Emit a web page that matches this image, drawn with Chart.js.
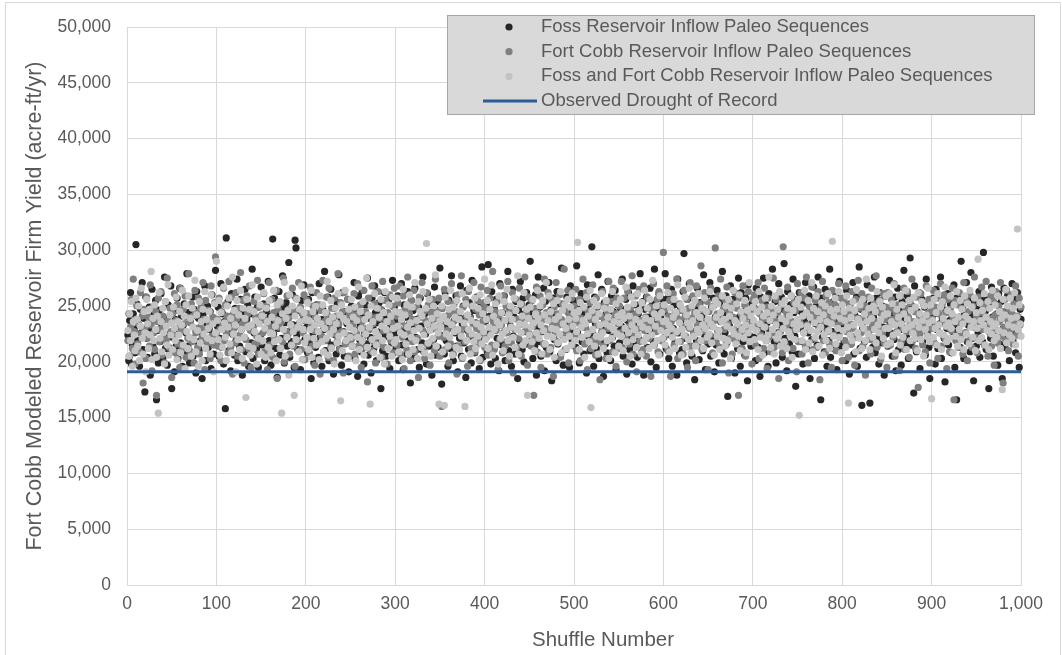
<!DOCTYPE html>
<html>
<head>
<meta charset="utf-8">
<script src="https://cdn.jsdelivr.net/npm/chart.js@4.4.1/dist/chart.umd.min.js"></script>
<style>
html,body{margin:0;padding:0;background:#fff;}
canvas{display:block;}
</style>
</head>
<body>
<canvas id="c" width="1062" height="655"></canvas>
<script>
// Firm yield (acre-ft/yr) for shuffles 1..1000
const fossSeries = [
22400,20100,23700,26200,19800,21500,24300,22900,20800,30500,25200,21900,23300,19600,24700,22600,27100,21100,23900,17300,25800,22100,20400,23600,24900,18800,23000,26500,21400,24200,20700,25500,16600,22800,19900,24600,21800,26100,23300,20300,24000,27600,21200,22400,19700,25100,23500,20900,26800,17600,
22200,24500,19100,23800,21400,25700,20300,22900,26600,21700,24100,19600,23300,25200,20800,22600,27900,21400,24400,19900,23600,22100,25800,20500,24700,23000,19000,26300,21800,23900,21100,25400,22700,18500,24200,21900,26800,20100,23500,25000,21300,22900,24500,19400,26000,22400,20700,23800,28200,21600,
23200,24900,20500,22100,27000,21300,24300,19800,23600,15800,31100,22700,25400,21000,24000,19200,26100,22500,23300,20600,24800,21900,27400,20100,23700,21400,25600,22900,18800,24500,22200,26500,20900,23800,25100,19600,23000,24300,21700,28300,20300,22600,25800,23400,21100,24900,19500,24000,22300,26700,
21500,23800,25200,20100,22900,24600,20800,27200,21900,24100,19700,23400,31000,22500,25700,21200,24400,18600,23000,26300,20600,23900,22100,27700,24800,19900,23500,25300,21400,22700,28900,20400,24200,21800,26000,23300,19500,30900,30200,22400,21100,24600,22800,19300,25500,23700,20200,26900,22000,24300,
23100,20800,25600,21700,24000,18500,26200,22600,19900,24400,21300,25100,23500,20400,27000,22200,23800,19600,24700,22900,28100,21000,24300,21900,25800,20100,23300,26500,21500,23600,18900,24800,22400,20700,25300,23100,27800,21200,24000,19700,26200,22700,20500,24500,21800,23400,25600,19100,23900,22300,
25000,21400,23600,27100,20300,22800,24500,18700,25900,22000,23300,20900,26400,24200,19800,22600,25100,21600,27500,20600,23900,22200,19000,25700,23100,21200,26800,24400,20100,23500,21800,25300,22700,17600,24600,21000,23800,26200,22300,20500,24100,22900,25600,19400,23200,21700,27300,20800,24900,22500,
21200,23700,25900,20100,24400,22800,27000,21500,19300,25100,22600,24000,20700,26300,21900,23400,18100,25500,23000,24600,20300,26600,22200,23800,21100,24900,19500,25700,23200,21700,27600,20900,24300,22500,19800,26100,23600,21400,25200,22900,18800,24500,22000,26700,20600,23900,25400,21300,23100,28400,
22400,18000,24800,23300,20700,26200,21900,24100,19600,25500,23000,21200,27700,24500,20100,23700,22600,25900,21400,19100,24300,22100,26800,20500,23400,25000,21700,23900,18600,26400,22800,21100,25300,24000,19900,27300,22200,24600,20800,23500,25800,21600,23100,19400,24900,22700,28500,20400,24200,22000,
23600,25200,20900,28700,22500,24100,19800,26300,21400,23000,24700,20300,25600,22100,23800,19200,27000,23300,21500,24400,22600,25900,20100,23700,21800,28100,21000,24800,23200,19600,26500,22300,24000,20700,25400,22900,18500,24600,21900,27200,23400,21100,25700,20000,24300,22700,26200,21600,23900,25100,
29000,22200,24500,20300,23600,21400,26000,18800,23100,27600,21800,24900,20500,23900,22700,26600,19200,25400,21300,24100,22800,27100,20900,24600,18300,23500,25700,22000,24200,20100,26300,21600,23800,25200,20600,28400,22400,19700,24700,23300,21100,25800,22900,24400,19500,26800,23700,21900,25500,22600,
24000,21300,28600,22700,25200,19900,23500,26100,21800,24400,20700,23100,25600,19000,26900,22300,24700,21000,23800,30300,22500,19600,25800,23400,21200,24900,27800,20300,24100,21900,26500,23000,18700,25300,21600,24300,20800,27200,22800,23600,20100,25900,22200,24500,21400,26400,19300,23900,25100,22700,
21700,24800,23200,27400,20500,24000,22600,25600,18900,23700,26200,21100,24500,22200,19800,26800,23400,21500,25100,22900,20400,24300,22000,27900,23600,20900,25400,18800,24700,23100,25800,21300,24000,22500,26600,20000,23800,25200,21800,28300,22800,19500,24600,23400,26100,20700,24100,21900,25600,23200,
24500,27900,21200,23300,25700,20300,23800,22400,26500,19600,23000,25100,21700,24200,18800,27400,22600,20800,24900,23500,21100,26300,29700,22100,24400,19900,25600,23200,27000,21400,23900,20500,25800,22700,18400,24700,21900,26600,23600,20200,25300,22800,24100,21000,27800,22400,19300,24500,26000,21600,
23400,27100,20500,24900,22200,25700,19100,24000,21500,26400,22800,19900,25300,23600,21100,28100,24300,20700,22600,25900,21700,16900,24600,23200,26800,20300,23800,25600,22100,19000,25000,22700,21200,27500,24000,19600,26200,23000,21800,24500,20600,25700,23300,18300,26900,22400,24100,21400,25200,23700,
22200,24800,20100,26600,23100,21300,24400,18700,25800,22600,23900,27500,20800,25200,21900,23500,19600,26100,22800,24500,21000,28300,23700,21800,25400,19900,24200,22600,27000,21500,23300,25800,20400,24700,28800,22100,23800,19200,26300,22900,21600,25100,23600,20900,27400,24400,22300,17800,25600,23100,
20700,26200,23000,24500,21800,19800,25300,23600,27100,21200,24100,22600,25900,18500,24800,22000,23700,26700,20300,23400,25000,21500,27600,22900,24300,16600,25700,22200,23800,20900,26500,23100,19600,24600,21900,28300,20400,24000,22700,25400,21200,23600,26000,19300,24900,22500,27200,21400,24300,23000,
25600,21900,23700,20100,26400,22800,24500,18900,25200,21600,23300,27100,20700,24200,22300,25800,19600,23900,28500,21200,24700,16100,23000,25500,21800,23600,20400,26900,22600,24400,16300,25100,22900,21300,24000,27600,20800,25700,22100,23500,19800,26200,24400,21700,25000,23100,18800,25900,22500,24100,
21400,23700,27300,22600,24900,20500,24300,22000,25800,19200,23500,26600,21100,24600,22900,19700,25400,23800,28200,21600,24300,22200,25900,20300,23700,29300,21500,25000,22800,17200,26800,23300,20900,24500,22100,26200,19400,24000,25600,21800,23100,24900,20600,27400,22700,24300,21300,18500,25200,23600,
22000,25700,24300,19800,26500,22900,21200,24800,23400,27600,20300,23900,25500,22100,18200,24600,23000,26100,21500,23700,25200,20800,24100,22700,26900,19500,23300,16600,25800,22400,24000,21300,29000,23600,25000,20300,24400,22600,27100,21800,23300,25700,20900,28000,24200,22100,18300,25300,23800,21400,
24700,22600,26300,20400,23900,25500,21800,29800,23200,24500,21100,25800,23600,17600,24900,22100,26700,24000,20500,23400,25200,22800,24300,19700,26100,21600,23800,25400,18500,23000,26600,21300,24500,22200,25900,23500,20100,24800,22700,27000,21900,24100,25600,20800,23300,26200,22400,19500,24700,23800
];
const fortCobbSeries = [
21900,24300,20500,23100,25600,21200,27400,22700,19800,23800,25000,21600,23400,20900,26200,22500,24100,18100,24700,23000,20300,25800,22100,24000,21400,26900,23300,19200,24900,22600,21100,24500,17000,23600,25700,21800,22900,26300,20600,24100,23200,19900,25400,22000,27500,23700,21300,24800,22700,18600,
24300,22400,26100,20800,23700,25100,21600,23000,19500,26600,22800,21200,24700,23400,25900,20400,24000,22100,27900,21000,23500,25200,21800,24100,19900,26400,22600,24400,21300,25700,20700,23100,24900,22200,27100,23800,19300,25500,22900,21700,24600,23400,20300,26800,22300,24000,21500,25300,29400,22600,
23800,21400,25700,22900,20100,24500,23300,26600,21900,25100,22600,24100,20800,27200,23600,21300,25800,18900,24300,23000,21700,26200,23900,20500,24800,22400,28000,21100,23400,25500,19900,23700,22000,25900,24300,21200,26800,22800,19500,24600,23100,25400,21600,24000,22300,27300,20700,24900,23600,21800,
24200,22600,26100,20900,23700,25000,19300,23300,27100,21500,22800,25600,20400,24400,22100,23800,26400,18500,24700,23100,21200,25300,23600,21800,27500,20000,24200,22700,25900,22400,23900,20700,24800,23200,26600,21400,24500,19600,25700,23000,21800,27100,23500,24900,21100,24300,22600,26000,20200,23800,
25500,22100,24300,20800,26700,23200,21400,25000,22800,19700,24000,26200,21600,23500,25100,18900,24600,22300,27300,20900,23600,21900,25800,24200,20400,26600,22900,21300,24800,23300,20100,25700,22500,24100,21800,27900,23400,21100,25300,22700,24500,19000,26200,21600,23800,22400,25600,20500,24300,23100,
22000,24800,23300,26100,20700,24200,22600,27000,21400,23800,25100,19500,23600,22200,26400,21300,24500,23000,18200,25700,22900,24100,21000,26800,23400,21800,25200,19900,24000,22500,26300,21600,23900,24700,20400,27200,22800,21300,25500,23600,19800,24400,22700,26000,21900,23500,25000,20800,26600,23100,
24100,21500,25300,23000,26800,20700,23600,22200,25900,19400,24700,23200,21100,27600,22600,24300,20100,25500,21800,23800,26400,20900,23500,24900,22100,18600,25800,24000,21300,27100,22800,24500,20300,23700,26200,21600,25100,23300,19700,24400,21900,25600,23800,21000,27400,23000,24600,22300,25700,20500,
23300,16000,24800,22200,26500,21100,24000,22800,25400,19900,24300,21600,27000,23500,20700,25200,22900,24500,18900,26000,21400,23800,22600,27700,20300,24900,23100,21800,25600,24100,19600,26300,22400,23900,21200,25000,23400,27100,20900,24700,23000,25500,21800,24200,20100,26700,22600,23600,25300,21300,
24800,22200,26400,20600,23900,25700,23000,21500,28100,23500,21100,24500,22800,25400,19300,24200,22000,26800,23300,20800,25900,23700,21400,25000,22600,27200,20100,24400,23100,21700,26200,19000,24700,22900,25600,21300,23800,22100,26600,23600,20500,25100,24000,21700,27600,22800,24400,19700,25800,22500,
23900,21400,25500,23200,17000,24800,22100,26700,20900,24300,22600,25900,19500,23700,25100,21600,27400,23000,24400,20700,26200,22900,24000,21300,25600,23400,18700,24900,22500,27100,21800,24300,23300,26000,20400,23800,25200,22300,28300,21100,24600,22800,26400,19900,24100,23200,25700,21500,23600,25000,
22400,26500,21000,24300,23500,25600,20100,23900,22200,27400,24800,21600,23100,26200,19300,24500,22700,25300,21200,23800,26900,22000,24200,20600,25700,23300,21800,25000,18400,24100,22700,26300,21400,23600,25100,20300,24500,23000,27200,21900,23800,25400,20900,26600,22800,24300,19600,25700,23400,21200,
25000,22600,27200,21300,23900,25700,22100,24400,20000,26300,23100,21600,24800,23600,27700,20700,24200,22500,25900,19100,24400,23000,26500,21800,23700,25300,21100,26800,22800,24000,20500,25800,23400,22100,24900,18700,24600,23200,27000,21500,24100,22700,25600,20900,26300,23600,21900,25000,23100,29800,
22200,24700,23400,26800,21000,24100,25500,18700,23600,22900,26100,21500,24300,22600,27400,20300,23800,25200,21800,24600,23200,20700,26400,24000,22300,25600,19500,24800,23000,27100,21400,23900,25900,22500,24400,20100,26800,23300,21700,25200,24000,28600,21100,24700,22800,26200,21900,23600,25400,19300,
24500,22400,26600,23200,20800,25000,23700,30200,21800,24300,22600,25900,21300,27400,23800,19900,24700,22900,25600,21500,26700,23400,19000,24400,22100,25300,20700,24000,22900,26200,21900,24800,23500,17000,25700,22600,24300,21200,26800,23100,25100,20500,24000,22700,26300,21800,24500,23400,19800,25600,
23200,26000,21500,24700,22800,27100,20300,24300,22400,25500,23800,21200,26600,23100,24900,19400,25700,22200,24000,20900,24800,22600,27500,21300,23700,25600,22000,24400,18500,26200,22700,25100,20800,30300,23900,21600,24500,23300,26700,20100,24200,22400,25900,23600,21200,25300,22900,24600,19100,27000,
21800,24900,23500,26200,20700,24100,22600,25700,21400,27600,23300,19900,25000,22800,24400,26700,21100,23800,22100,25500,24000,21300,26300,23000,18400,24800,23600,27200,21900,24500,20800,25900,22700,24200,25300,21600,23400,19500,26400,23900,22400,25100,21000,24600,23300,27000,22200,24300,25700,20100,
23600,25500,21900,26800,22700,24200,20400,25100,23300,21600,26300,23000,24500,19700,25600,22200,23900,27300,21000,24800,22600,26100,21400,23700,25000,18800,24400,22900,25800,22000,24100,20700,26600,23300,21900,25200,23600,27700,21300,24600,23000,25500,20200,24300,22600,26100,21700,23800,24900,19500,
26200,23100,24700,21500,25600,23800,22200,27000,20500,24400,22700,25100,23600,19200,25900,21800,24300,23100,26600,21100,24800,22700,26300,24000,20400,25300,23200,27400,21900,23600,24500,21200,25800,22900,17700,24200,22500,26100,23700,21500,25200,23400,20900,26800,24000,22300,25600,19900,24500,23000,
23800,26400,21700,24900,23200,25700,20300,24300,22600,27000,21400,25200,23700,26000,22100,24400,19400,25600,23100,20900,24700,22800,26600,24000,16600,25500,21900,23600,25100,21300,26200,23400,22300,24800,20700,27100,23900,22600,25400,20100,24500,21900,26000,23600,21300,25000,23100,27600,22200,24100,
20800,25800,23600,24400,22100,26700,22900,25100,21500,24000,27200,23300,20500,24800,22600,25900,21400,23900,25500,19700,24200,26300,22800,21700,25000,23600,27100,22300,24500,18100,23100,25600,21900,26400,23800,21000,24700,22800,26000,24300,21600,25200,23500,26800,22400,24100,20500,25700,23300,24900
];
const combinedSeries = [
22800,20500,24300,21900,25400,19600,23600,22400,21000,25700,23800,21400,25000,20100,23200,26600,22100,20700,24500,22600,19100,25600,23400,21200,24700,22400,28100,20200,23900,21900,25100,22900,20400,24100,15400,26200,22100,23600,20900,24800,22600,19800,25400,23200,21500,26900,20600,24200,22400,23500,
21100,24900,23000,21900,25800,20200,23600,22400,24500,20800,23300,26400,21500,24100,19400,25100,22700,21200,25900,22200,23900,20500,24800,23100,22000,27300,20900,24200,22800,19600,25400,21700,23600,20100,24700,22500,26300,21200,23800,22100,23000,24500,20700,26000,21900,23400,19100,25200,22600,29000,
23700,22000,25500,20600,24400,22900,21300,26700,23500,22200,20100,25000,23100,25700,21600,23900,20800,27600,22500,24600,23300,19100,25500,22000,24200,21100,26400,22900,20300,24800,22200,23900,16800,25600,23100,21400,24700,20600,23300,26900,21200,24500,22700,23700,19800,25800,22100,23400,25100,20700,
24100,21900,26200,23000,20400,24800,23600,21300,25500,22600,20800,24000,22500,26400,21800,23200,20100,25100,23700,22000,25400,21200,15400,24300,22900,27100,20500,23900,22200,24600,18800,26000,23300,21500,25000,22700,17000,24100,22000,25600,23100,20900,24700,23600,26800,20200,22900,24400,21700,23800,
22200,25300,21100,23700,22900,26400,20400,24500,22100,23300,25000,21500,23900,22700,20200,25900,23400,21800,25100,20900,23000,24400,22100,27200,20600,23600,22500,25500,21200,24000,22900,19800,24800,23400,21700,26100,22300,24200,16500,25100,21000,23900,22600,26400,21900,23600,20300,24700,23100,22200,
25600,21400,24000,22800,24900,20100,23700,22200,26700,21100,24500,23000,21900,25400,20600,23800,22500,27500,21300,24200,23100,16200,25000,22000,23600,20800,26100,22700,21500,24800,22300,24000,20400,25600,23200,21900,24400,19800,26300,22900,23600,21200,25100,22300,24100,20500,25800,23000,21700,24500,
22000,25700,23200,20900,24400,22600,23800,20200,26500,22400,24200,21600,25100,23100,20700,26000,23500,22200,24900,21100,22800,27100,21900,23700,20300,25400,23000,24500,21300,24100,26300,22400,20800,24800,30600,23400,21700,25600,22800,20500,23900,22100,25000,23200,27800,21400,24300,22600,16200,23700,
23100,25000,20900,24100,16100,25800,22500,23600,21400,24700,22200,26400,23300,20600,24900,22700,24000,21300,25500,22900,23800,21100,24500,22300,26100,20400,23500,16000,25200,21900,24200,22900,26600,20700,23700,22500,25000,21800,25700,21200,23400,22300,24800,20200,26000,23100,21600,24300,22700,27400,
22000,23800,25500,21200,23100,24700,22400,26900,20600,24100,22900,25200,21500,23600,19800,25900,23300,22100,24400,22500,21000,25400,23700,22800,26500,21900,24200,20500,25000,23100,23800,22200,25700,21300,24600,22900,27700,20700,23400,25200,22600,24100,21500,26200,23300,21900,24700,17000,23900,22400,
24900,23100,21800,25600,23500,21000,24300,22600,26400,23900,22100,25000,23300,20700,25500,22800,24200,21600,27100,22300,23700,25900,21100,24500,23000,22200,25200,20400,23800,22900,25500,21700,24100,22500,26300,20800,24600,23400,22000,25100,23000,21200,25600,23800,22300,24900,21500,26100,23200,24400,
21900,23900,22700,30700,24500,21100,25300,23100,22200,23700,24900,20400,23400,25800,22500,24100,21800,26400,15900,24600,22900,25500,21400,23800,22300,25000,20700,24300,23300,22200,26100,22600,21200,24800,23400,25500,21900,24000,20300,23200,24700,22100,26300,22900,23600,20800,25200,22500,24100,21400,
23500,25600,22300,24400,21000,23900,23000,26700,21800,24900,22600,24100,20500,25800,23300,22000,25200,22900,23800,21300,26100,22400,24600,23500,20700,25300,23100,21800,26400,23900,22200,24800,22900,21200,25600,23700,22400,27300,21500,24300,23200,25000,21900,24000,20600,25900,22800,24400,22100,23600,
25100,21500,23700,22600,26200,23300,20900,24800,23000,22200,24000,25600,21200,24400,22700,26900,21800,23500,25100,20600,22900,24700,22400,25800,21300,24200,23500,22000,26600,23100,20800,25000,23700,22300,25500,21400,24400,22900,26100,22600,24000,21900,24800,23300,21200,25700,23000,24500,22200,23800,
22500,26300,23400,21700,24900,23100,20600,25500,24000,22300,25200,22800,21100,24400,23600,25900,22100,23800,21400,25000,23200,21900,25600,24100,20300,24800,22900,26400,22500,23700,21600,25200,23400,22300,26000,21000,24500,22900,23900,22100,25500,23300,20800,24600,22600,27100,21800,24100,23100,24900,
23700,22000,25400,22800,24500,21100,26300,23400,22200,24900,20600,24100,23100,25700,21900,24400,22400,27600,23700,21300,25000,22900,24200,20700,25900,23300,22100,24700,22500,26300,21400,23900,25200,23000,21800,25500,23600,21200,24800,22700,24100,22300,25900,20400,24600,23400,22000,25200,22900,23800,
25600,15200,23300,24900,21900,24100,22600,26400,21100,24400,23200,25500,21700,24000,22800,27100,20900,24800,23500,22200,25900,22700,24500,21400,23800,23100,25300,20600,24200,22400,25000,21900,23600,26100,22800,21200,24600,23400,30800,22300,24100,25700,21600,24700,23000,26300,22200,23900,20800,25100,
22800,24500,23700,21300,25900,23100,16300,24800,22400,24000,21900,25400,23300,24600,20900,26500,22600,23800,22100,25100,23400,21200,25600,23000,24300,21900,27400,23600,22500,24800,21100,25700,23900,22200,25000,22900,24500,21700,26300,23300,22600,25400,23800,20500,24900,22100,24200,23000,25900,21500,
24300,23000,26100,21700,23600,25200,22400,26900,23300,20800,24700,22600,24000,25900,21500,23400,25100,22200,24300,22900,26400,21100,23800,23100,25500,21900,24600,23300,22600,25800,22100,24900,23600,21000,26200,23100,24300,22000,25400,23700,20500,25000,22900,24200,22300,26600,23500,21800,25100,16700,
23700,22200,25600,23000,24400,21500,26100,23300,22600,24900,21100,25400,23900,22400,26700,23200,21800,24600,23500,22100,25900,23000,24300,20800,25100,23600,22300,26300,21400,24000,22900,25500,22000,24700,23400,21100,25900,24100,22500,25200,23800,21600,26400,23100,24900,22200,23600,25700,21000,24400,
23000,29200,21900,25300,23700,22200,24600,23300,26100,21500,24000,22800,25400,21100,24800,23600,22500,26400,23200,21900,25100,23400,22200,25900,22800,24500,21200,23900,17500,25600,22600,24200,26500,21700,25000,23300,22400,25700,23900,22100,24800,23100,26200,21500,24000,31900,22900,25100,23400,22300
];
const droughtOfRecord = 19100;

const seriesNames = [
  'Foss Reservoir Inflow Paleo Sequences',
  'Fort Cobb Reservoir Inflow Paleo Sequences',
  'Foss and Fort Cobb Reservoir Inflow Paleo Sequences',
  'Observed Drought of Record'
];
const seriesColors = ['#262626', '#808080', '#c3c3c3', '#2e5c96'];
const xAxisTitle = 'Shuffle Number';
const yAxisTitle = 'Fort Cobb Modeled Reservoir Firm Yield (acre-ft/yr)';
const xRange = [0, 1000];
const yRange = [0, 50000];

const toPoints = arr => arr.map((v, i) => ({ x: i + 1, y: v }));
const TEXT = '#595959';
const FONT = "'Liberation Sans', Arial, sans-serif";

const decor = {
  id: 'decor',
  beforeDraw(chart) {
    const ctx = chart.ctx;
    ctx.save();
    ctx.fillStyle = '#fff';
    ctx.fillRect(0, 0, chart.width, chart.height);
    ctx.strokeStyle = '#d9d9d9';
    ctx.lineWidth = 1;
    ctx.strokeRect(5.5, 2.5, 1055, 700);
    ctx.restore();
  },
  afterDraw(chart) {
    const ctx = chart.ctx;
    const ca = chart.chartArea;
    ctx.save();
    // axis titles
    ctx.fillStyle = TEXT;
    ctx.textAlign = 'center';
    ctx.textBaseline = 'middle';
    ctx.font = '20.5px ' + FONT;
    ctx.fillText(xAxisTitle, 603, 640);
    ctx.save();
    ctx.translate(35, (ca.top + ca.bottom) / 2);
    ctx.rotate(-Math.PI / 2);
    ctx.font = '21.5px ' + FONT;
    ctx.fillText(yAxisTitle, 0, 0);
    ctx.restore();
    // legend
    const lx = 447, ly = 15, lw = 587, lh = 99;
    ctx.fillStyle = '#d9d9d9';
    ctx.fillRect(lx, ly, lw, lh);
    ctx.strokeStyle = '#a6a6a6';
    ctx.lineWidth = 1;
    ctx.strokeRect(lx + 0.5, ly + 0.5, lw, lh);
    ctx.font = '18.5px ' + FONT;
    ctx.textAlign = 'left';
    seriesNames.forEach((name, i) => {
      const y = 27 + i * 24.7;
      if (i < 3) {
        ctx.fillStyle = seriesColors[i];
        ctx.beginPath();
        ctx.arc(509, y, 3.6, 0, Math.PI * 2);
        ctx.fill();
      } else {
        ctx.strokeStyle = seriesColors[i];
        ctx.lineWidth = 3;
        ctx.beginPath();
        ctx.moveTo(483, y);
        ctx.lineTo(537, y);
        ctx.stroke();
      }
      ctx.fillStyle = TEXT;
      ctx.fillText(name, 541, y);
    });
    ctx.restore();
  }
};

const scatterDs = (data, i, order) => ({
  label: seriesNames[i],
  data: toPoints(data),
  backgroundColor: seriesColors[i],
  pointBackgroundColor: seriesColors[i],
  pointRadius: 3.6,
  pointBorderWidth: 0,
  pointHoverRadius: 3.6,
  showLine: false,
  order: order,
  clip: false
});

new Chart(document.getElementById('c'), {
  type: 'scatter',
  data: {
    datasets: [
      scatterDs(fossSeries, 0, 3),
      scatterDs(fortCobbSeries, 1, 2),
      scatterDs(combinedSeries, 2, 1),
      {
        label: seriesNames[3],
        data: [{ x: xRange[0], y: droughtOfRecord }, { x: xRange[1], y: droughtOfRecord }],
        showLine: true,
        borderColor: seriesColors[3],
        backgroundColor: seriesColors[3],
        borderWidth: 3,
        pointRadius: 0,
        order: 0,
        clip: false
      }
    ]
  },
  options: {
    responsive: false,
    animation: false,
    devicePixelRatio: 1,
    layout: { padding: { top: 27, right: 41, left: 0, bottom: 0 } },
    plugins: { legend: { display: false }, tooltip: { enabled: false } },
    scales: {
      x: {
        type: 'linear',
        min: xRange[0], max: xRange[1],
        afterFit: s => { s.height = 70; },
        grid: { color: '#d9d9d9', drawTicks: false },
        border: { color: '#d9d9d9' },
        ticks: {
          stepSize: 100, autoSkip: false, maxRotation: 0, padding: 9,
          color: TEXT, font: { family: FONT, size: 17.5 },
          callback: v => v.toLocaleString('en-US')
        }
      },
      y: {
        min: yRange[0], max: yRange[1],
        afterFit: s => { s.width = 127; },
        grid: { color: '#d9d9d9', drawTicks: false },
        border: { color: '#d9d9d9' },
        ticks: {
          stepSize: 5000, padding: 16,
          color: TEXT, font: { family: FONT, size: 17.5 },
          callback: v => v.toLocaleString('en-US')
        }
      }
    }
  },
  plugins: [decor]
});
</script>
</body>
</html>
